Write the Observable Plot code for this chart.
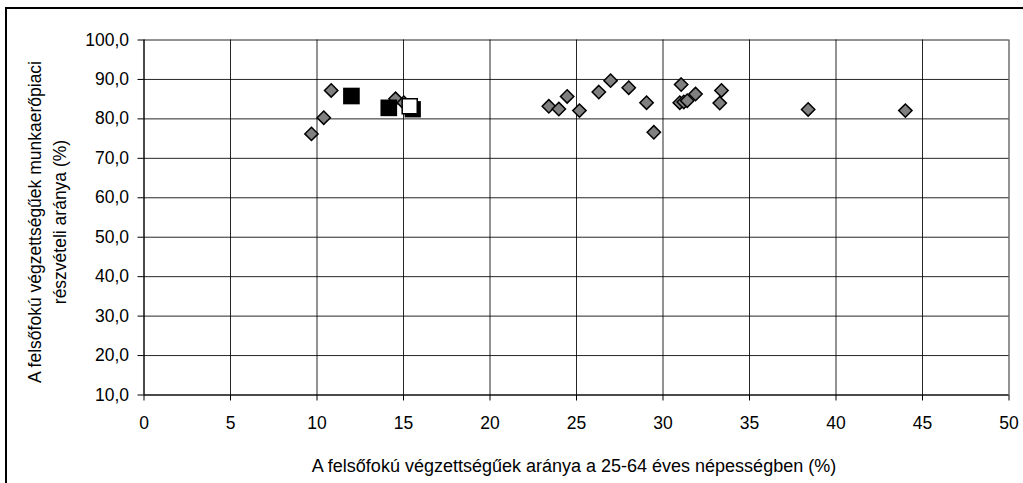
<!DOCTYPE html>
<html>
<head>
<meta charset="utf-8">
<script src="https://cdn.jsdelivr.net/npm/d3@7"></script>
<script src="https://cdn.jsdelivr.net/npm/@observablehq/plot@0.6"></script>
<style>
  html, body { margin: 0; padding: 0; background: #fff; overflow: hidden; }
  #wrap { position: relative; width: 1023px; height: 483px; }
  #frame { position: absolute; left: 5px; top: 7px; width: 1040px; height: 500px; border: 2px solid #000; box-sizing: border-box; pointer-events: none; }
  svg { position: absolute; left: 0; top: 0; }
</style>
</head>
<body>
<div id="wrap"><div id="frame"></div></div>
<script>
// Diamonds (gray)
const diamondX = [10.82, 10.39, 9.68, 14.54, 15.02, 23.40, 23.98, 24.46, 25.17, 26.29, 26.97, 28.02, 29.05, 29.47, 31.05, 30.97, 31.20, 31.40, 31.88, 33.38, 33.28, 38.39, 44.01];
const diamondY = [87.2, 80.3, 76.2, 85.1, 84.1, 83.2, 82.5, 85.7, 82.1, 86.8, 89.7, 87.9, 84.1, 76.6, 88.7, 84.1, 84.3, 84.6, 86.3, 87.2, 84.0, 82.4, 82.1];
// Black squares
const blackX = [11.99, 14.15];
const blackY = [85.8, 82.8];
// White square with shadow
const whiteX = [15.36];
const whiteY = [83.2];

const xTicks = [0, 5, 10, 15, 20, 25, 30, 35, 40, 45, 50];
const yTicks = [10, 20, 30, 40, 50, 60, 70, 80, 90, 100];

const diamonds = diamondX.map((x, i) => ({x, y: diamondY[i]}));
const blacks = blackX.map((x, i) => ({x, y: blackY[i]}));
const whites = whiteX.map((x, i) => ({x, y: whiteY[i]}));

const fmtY = d => d3.format(".1f")(d).replace(".", ",");
const FONT = "'Liberation Sans', Arial, sans-serif";

const chart = Plot.plot({
  width: 1023,
  height: 483,
  marginLeft: 143.5,
  marginRight: 14.5,
  marginTop: 39.5,
  marginBottom: 88.5,
  style: {fontFamily: FONT, fontSize: "17.5px", background: "transparent", color: "#000"},
  x: {domain: [0, 50], ticks: xTicks},
  y: {domain: [10, 100], ticks: yTicks},
  marks: [
    Plot.gridX(xTicks, {stroke: "#000", strokeOpacity: 0.85, strokeWidth: 1}),
    Plot.gridY(yTicks, {stroke: "#000", strokeOpacity: 0.85, strokeWidth: 1}),
    Plot.ruleX([0], {stroke: "#000"}),
    Plot.ruleY([10], {stroke: "#000"}),
    Plot.axisX({ticks: xTicks, tickSize: 6, tickPadding: 16, fontSize: 17.5, label: null}),
    Plot.axisY({ticks: yTicks, tickSize: 6, tickPadding: 9, fontSize: 17.5, tickFormat: fmtY, label: null}),
    Plot.dot(diamonds, {x: "x", y: "y", symbol: "diamond2", r: 6, fill: "#808080", stroke: "#000", strokeWidth: 1.5}),
    Plot.dot(blacks, {x: "x", y: "y", symbol: "square", r: 9.4, fill: "#000", stroke: "none"}),
    Plot.dot(whites, {x: "x", y: "y", symbol: "square", r: 9.2, fill: "#000", stroke: "none", dx: 3, dy: 3}),
    Plot.dot(whites, {x: "x", y: "y", symbol: "square", r: 8.5, fill: "#fff", stroke: "#000", strokeWidth: 1.5})
  ]
});

const svg = d3.select(chart);
svg.append("text")
  .attr("x", 574).attr("y", 472)
  .attr("text-anchor", "middle")
  .style("font-family", FONT)
  .style("font-size", "18px")
  .text("A felsőfokú végzettségűek aránya a 25-64 éves népességben (%)");
const ylab = svg.append("text")
  .attr("transform", "translate(41,222) rotate(-90)")
  .attr("text-anchor", "middle")
  .style("font-family", FONT)
  .style("font-size", "17.5px");
ylab.append("tspan").attr("x", 0).attr("y", 0).text("A felsőfokú végzettségűek munkaerőpiaci");
ylab.append("tspan").attr("x", 0).attr("y", 25).text("részvételi aránya (%)");

document.getElementById("wrap").appendChild(chart);
</script>
</body>
</html>
